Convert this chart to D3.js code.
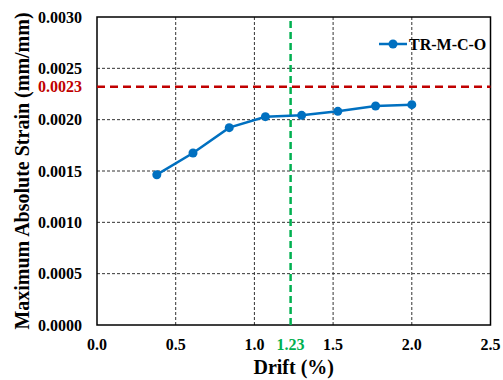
<!DOCTYPE html>
<html>
<head>
<meta charset="utf-8">
<script src="https://cdn.jsdelivr.net/npm/d3@7"></script>
<style>
  body { margin: 0; background: #fff; }
</style>
</head>
<body>
<div id="chart"></div>
<script>
// data
var drift = [0.38, 0.61, 0.84, 1.07, 1.30, 1.53, 1.77, 2.00];
var strain = [0.001464, 0.001675, 0.001922, 0.002029, 0.002042, 0.002081, 0.002133, 0.002146];
var xTicks = [0.0, 0.5, 1.0, 1.5, 2.0, 2.5];
var yTicks = [0.0000, 0.0005, 0.0010, 0.0015, 0.0020, 0.0025, 0.0030];
var strainLimit = 0.00232;
var driftLimit = 1.23;
var seriesName = "TR-M-C-O";

var width = 503, height = 380;
var margin = { top: 17, right: 12.5, bottom: 55, left: 97 };
var serif = "'Liberation Serif', 'Times New Roman', Times, 'DejaVu Serif', serif";

var svg = d3.select("#chart").append("svg")
    .attr("width", width)
    .attr("height", height)
    .attr("font-family", serif)
    .attr("font-weight", "bold");

var x = d3.scaleLinear().domain([0, 2.5]).range([margin.left, width - margin.right]);
var y = d3.scaleLinear().domain([0, 0.003]).range([height - margin.bottom, margin.top]);

// grid
svg.append("g").selectAll("line")
  .data(xTicks.slice(1, -1))
  .enter().append("line")
    .attr("x1", function(d) { return x(d); })
    .attr("x2", function(d) { return x(d); })
    .attr("y1", y(0)).attr("y2", y(0.003))
    .attr("stroke", "#333").attr("stroke-width", 1)
    .attr("stroke-dasharray", "3,2");

svg.append("g").selectAll("line")
  .data(yTicks.slice(1, -1))
  .enter().append("line")
    .attr("y1", function(d) { return y(d); })
    .attr("y2", function(d) { return y(d); })
    .attr("x1", x(0)).attr("x2", x(2.5))
    .attr("stroke", "#333").attr("stroke-width", 1)
    .attr("stroke-dasharray", "3,2");

// frame
svg.append("rect")
    .attr("x", x(0)).attr("y", y(0.003))
    .attr("width", x(2.5) - x(0)).attr("height", y(0) - y(0.003))
    .attr("fill", "none").attr("stroke", "#000").attr("stroke-width", 1.5);

// tick labels
svg.append("g").selectAll("text")
  .data(yTicks)
  .enter().append("text")
    .attr("x", x(0) - 15)
    .attr("y", function(d) { return y(d); })
    .attr("dy", "0.35em")
    .attr("text-anchor", "end")
    .attr("font-size", 16)
    .text(function(d) { return d3.format(".4f")(d); });

svg.append("text")
    .attr("x", x(0) - 15).attr("y", y(strainLimit)).attr("dy", "0.35em")
    .attr("text-anchor", "end").attr("font-size", 16).attr("fill", "#c00000")
    .text(d3.format(".4f")(Math.round(strainLimit * 10000) / 10000));

svg.append("g").selectAll("text")
  .data(xTicks)
  .enter().append("text")
    .attr("x", function(d) { return x(d); })
    .attr("y", y(0) + 25)
    .attr("text-anchor", "middle")
    .attr("font-size", 16)
    .text(function(d) { return d3.format(".1f")(d); });

svg.append("text")
    .attr("x", x(driftLimit)).attr("y", y(0) + 25)
    .attr("text-anchor", "middle").attr("font-size", 16).attr("fill", "#00b050")
    .text(driftLimit.toFixed(2));

// axis titles
svg.append("text")
    .attr("x", (x(0) + x(2.5)) / 2).attr("y", height - 6)
    .attr("text-anchor", "middle").attr("font-size", 20)
    .text("Drift (%)");

svg.append("text")
    .attr("transform", "translate(29," + ((y(0) + y(0.003)) / 2) + ") rotate(-90)")
    .attr("text-anchor", "middle").attr("font-size", 20)
    .text("Maximum Absolute Strain (mm/mm)");

// reference lines
svg.append("line")
    .attr("x1", x(0)).attr("x2", x(2.5))
    .attr("y1", y(strainLimit)).attr("y2", y(strainLimit))
    .attr("stroke", "#c00000").attr("stroke-width", 2.5)
    .attr("stroke-dasharray", "8,5");

svg.append("line")
    .attr("x1", x(driftLimit)).attr("x2", x(driftLimit))
    .attr("y1", y(0)).attr("y2", y(0.003))
    .attr("stroke", "#00b050").attr("stroke-width", 2.5)
    .attr("stroke-dasharray", "7,4");

// series
var pts = drift.map(function(d, i) { return [d, strain[i]]; });
var line = d3.line()
    .x(function(d) { return x(d[0]); })
    .y(function(d) { return y(d[1]); });

svg.append("path")
    .datum(pts)
    .attr("d", line)
    .attr("fill", "none").attr("stroke", "#0070c0").attr("stroke-width", 2.5);

svg.append("g").selectAll("circle")
  .data(pts)
  .enter().append("circle")
    .attr("cx", function(d) { return x(d[0]); })
    .attr("cy", function(d) { return y(d[1]); })
    .attr("r", 4.5)
    .attr("fill", "#0070c0");

// legend
var lg = svg.append("g").attr("transform", "translate(379,44)");
lg.append("line").attr("x1", 0).attr("x2", 28)
    .attr("stroke", "#0070c0").attr("stroke-width", 2.5);
lg.append("circle").attr("cx", 14).attr("r", 4.5).attr("fill", "#0070c0");
lg.append("text").attr("x", 30).attr("dy", "0.35em")
    .attr("font-size", 16).text(seriesName);
</script>
</body>
</html>
